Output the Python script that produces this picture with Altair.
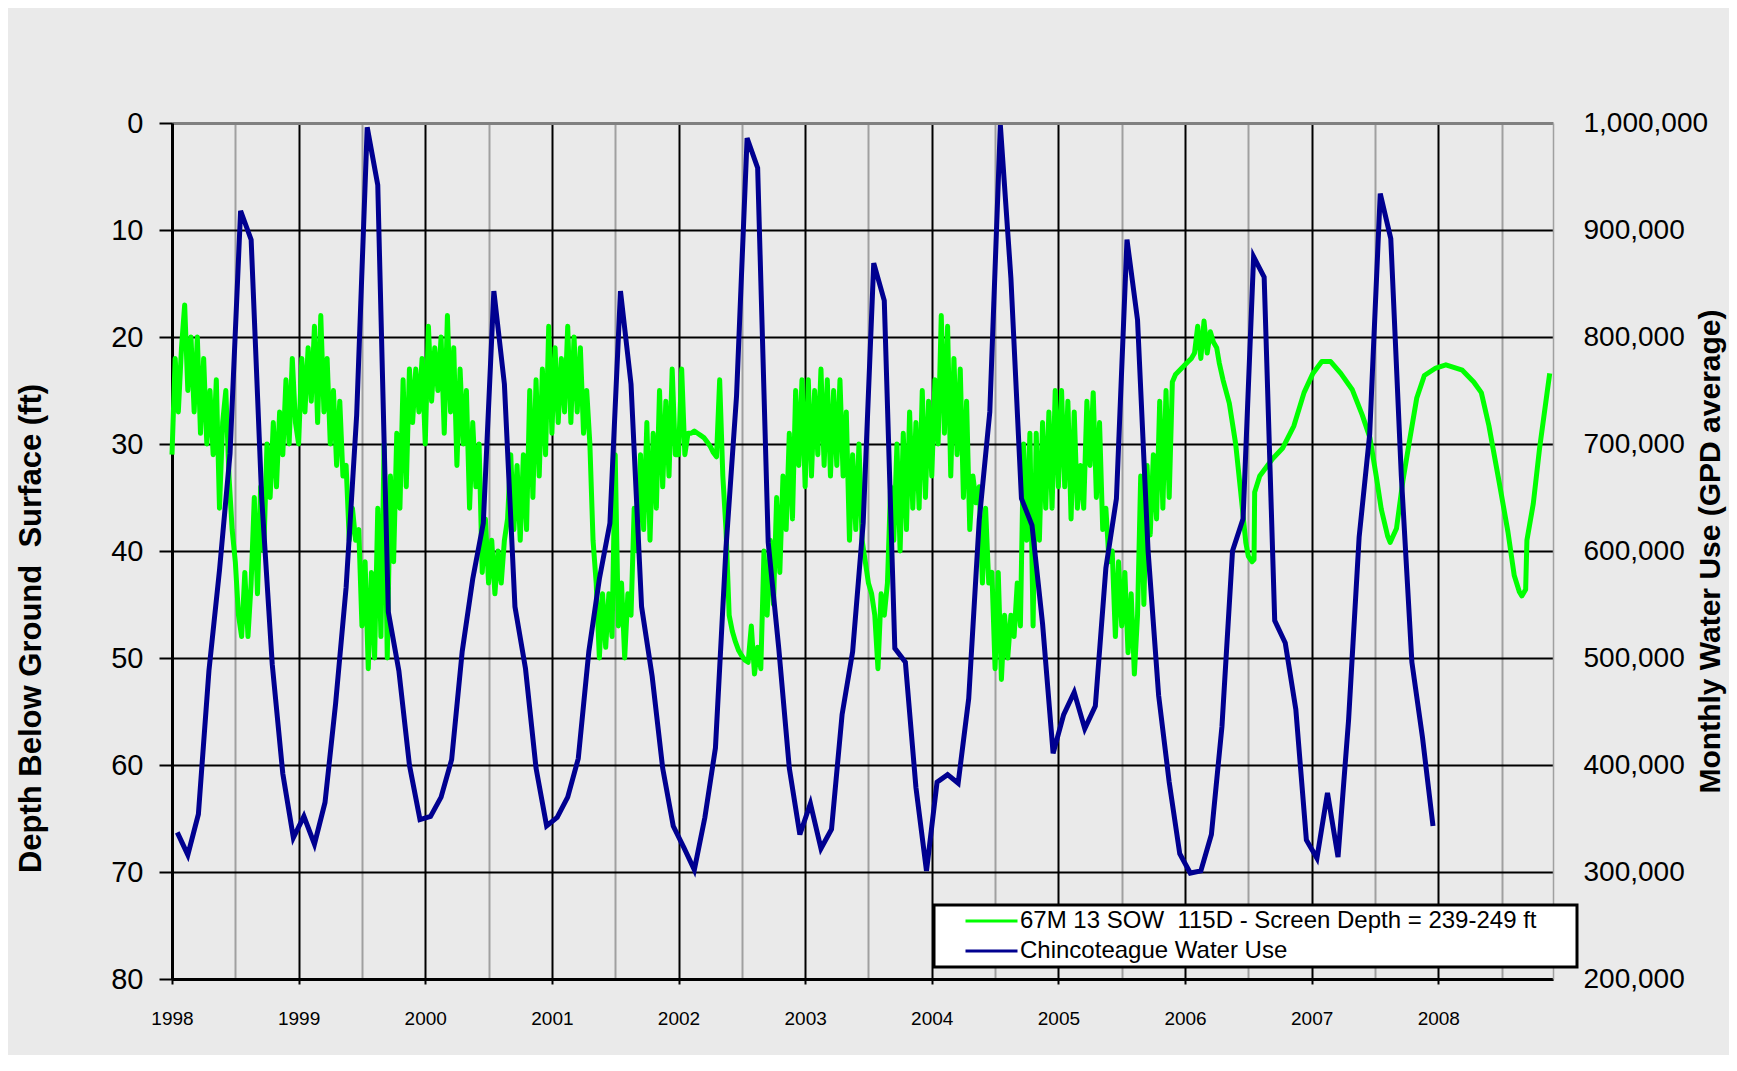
import altair as alt
import pandas as pd

FONT = "Liberation Sans, Arial, sans-serif"

# ---------------- data ----------------
series_green = "67M 13 SOW\u00a0 115D - Screen Depth = 239-249 ft"
series_blue = "Chincoteague Water Use"

# Chincoteague monthly water use (GPD average), Jan..Dec of each year
blue_1998 = [337000, 316000, 354000, 488000, 582000, 691000, 918000, 891000, 650000, 494000, 392000, 332000]
blue_1999 = [352000, 326000, 365000, 457000, 566000, 727000, 996000, 942000, 543000, 488000, 400000, 349000]
blue_2000 = [352000, 370000, 405000, 506000, 574000, 626000, 843000, 756000, 548000, 490000, 397000, 343000]
blue_2001 = [351000, 370000, 406000, 506000, 574000, 626000, 843000, 756000, 548000, 483000, 397000, 343000]
blue_2002 = [323000, 302000, 351000, 416000, 603000, 745000, 986000, 958000, 608000, 509000, 397000, 335000]
blue_2003 = [364000, 322000, 340000, 447000, 506000, 626000, 869000, 834000, 509000, 496000, 379000, 301000]
blue_2004 = [384000, 391000, 383000, 462000, 629000, 730000, 998000, 855000, 649000, 624000, 532000, 411000]
blue_2005 = [447000, 468000, 434000, 455000, 584000, 649000, 891000, 816000, 600000, 465000, 384000, 317000]
blue_2006 = [299000, 301000, 335000, 436000, 600000, 630000, 875000, 856000, 535000, 514000, 452000, 330000]
blue_2007 = [313000, 374000, 314000, 442000, 613000, 709000, 934000, 892000, 670000, 496000, 426000, 343000]
blue_years = {1998: blue_1998, 1999: blue_1999, 2000: blue_2000, 2001: blue_2001, 2002: blue_2002,
              2003: blue_2003, 2004: blue_2004, 2005: blue_2005, 2006: blue_2006, 2007: blue_2007}

# Well 67M 13 depth below ground surface (ft), readings every ~9 days (40 per year)
green_1998 = [31, 22, 27, 21, 17, 25, 20, 27, 20, 29, 22, 30, 25, 31, 24, 36, 28, 25, 33, 38,
              41, 46, 48, 42, 48, 43, 35, 44, 34, 40, 30, 35, 28, 34, 27, 31, 24, 30, 22, 28]
green_1999 = [30, 22, 27, 21, 26, 19, 28, 18, 27, 22, 30, 25, 32, 26, 33, 32, 39, 36, 39, 38,
              47, 41, 51, 42, 50, 36, 48, 30, 50, 33, 41, 29, 36, 24, 34, 23, 28, 23, 27, 22]
green_2000 = [30, 19, 26, 21, 25, 20, 29, 18, 27, 21, 32, 23, 30, 25, 36, 28, 34, 30, 42, 37,
              43, 39, 44, 40, 43, 39, 37, 31, 38, 32, 39, 31, 38, 25, 35, 24, 33, 23, 31, 19]
green_2001 = [29, 21, 28, 22, 27, 19, 28, 20, 27, 21, 29, 25, 30, 39, 43, 50, 44, 49, 44, 48,
              31, 47, 43, 50, 44, 46, 36, 40, 31, 38, 28, 39, 29, 36, 25, 34, 26, 33, 23, 31]
green_2002 = [31, 23, 31, 29, 29, 28.8, 29.0, 29.2, 29.4, 29.8, 30.2, 30.8, 31.2, 24, 33, 38, 46, 47.5, 48.5, 49.3,
              49.8, 50.2, 50.4, 47, 51.5, 49, 51, 40, 46, 39, 45, 35, 42, 33, 38, 29, 37, 25, 32, 24]
green_2003 = [34, 24, 33, 25, 31, 23, 32, 24, 33, 25, 32, 24, 33, 27, 39, 31, 38, 30, 39, 41,
              43, 44, 46, 51, 44, 46, 43, 34, 39, 30, 40, 29, 38, 27, 36, 28, 36, 25, 35, 26]
green_2004 = [33, 24, 30, 18, 29, 19, 33, 22, 31, 23, 35, 26, 38, 33, 35.5, 34, 43, 36, 43, 42,
              51, 42, 52, 46, 50, 46, 48, 43, 47, 30, 39, 29, 47, 29, 39, 28, 36, 27, 36, 25]
green_2005 = [34, 25, 34, 26, 37, 27, 36, 32, 36, 26, 32, 25.2, 35, 28, 38, 36, 41, 40, 48, 41,
              47, 42, 49.5, 44, 51.5, 46, 33, 45, 32, 38.5, 31, 37, 26, 36, 25, 35, 24.2, 23.5, 23.2, 22.9]
green_2006_early = [22.6, 22.3, 22.0, 21.5, 19, 22, 18.5, 21.5, 19.5, 20.5, 21.0]
green_years = {1998: green_1998, 1999: green_1999, 2000: green_2000, 2001: green_2001,
               2002: green_2002, 2003: green_2003, 2004: green_2004, 2005: green_2005,
               2006: green_2006_early}

# smoother record from mid-2006 on (decimal year, depth ft)
tail_t = [2006.27, 2006.30, 2006.35, 2006.40, 2006.44, 2006.48, 2006.50, 2006.53, 2006.545, 2006.55,
          2006.59, 2006.69, 2006.77, 2006.86, 2006.94, 2007.01, 2007.08, 2007.15, 2007.23, 2007.32,
          2007.40, 2007.46, 2007.51, 2007.55, 2007.60, 2007.62, 2007.67, 2007.72, 2007.77, 2007.83,
          2007.89, 2007.98, 2008.06, 2008.19, 2008.28, 2008.34, 2008.40, 2008.48, 2008.55, 2008.60,
          2008.64, 2008.66, 2008.69, 2008.70, 2008.75, 2008.80, 2008.88]
tail_d = [22.4, 24.0, 26.2, 30.0, 34.5, 39.2, 40.5, 41.0, 40.8, 34.5,
          33.0, 31.4, 30.4, 28.3, 25.2, 23.4, 22.3, 22.3, 23.4, 24.9,
          27.3, 29.4, 33.0, 36.1, 38.6, 39.2, 37.9, 33.5, 29.9, 25.7,
          23.6, 22.9, 22.6, 23.1, 24.2, 25.2, 28.3, 33.5, 38.2, 42.3,
          43.8, 44.2, 43.6, 39.0, 35.6, 30.4, 23.4]

x_ticks = [1998 + 0.5 * i for i in range(22)]
y_left_ticks = [0, 10, 20, 30, 40, 50, 60, 70, 80]
y_right_ticks = [200000, 300000, 400000, 500000, 600000, 700000, 800000, 900000, 1000000]

# ---------------- tables ----------------
blue_rows = []
for yr, vals in blue_years.items():
    for m, v in enumerate(vals):
        blue_rows.append({"t": yr + (m + 0.5) / 12.0, "v": v, "series": series_blue})
blue_df = pd.DataFrame(blue_rows)

green_rows = []
for yr, vals in green_years.items():
    for i, d in enumerate(vals):
        green_rows.append({"t": yr + i * 0.025, "d": d, "series": series_green})
for t, d in zip(tail_t, tail_d):
    green_rows.append({"t": t, "d": d, "series": series_green})
green_df = pd.DataFrame(green_rows).sort_values("t")

# ---------------- chart ----------------
x_enc = alt.X(
    "t:Q",
    scale=alt.Scale(domain=[1998, 2008.906], nice=False, zero=False),
    axis=alt.Axis(
        values=x_ticks,
        labelExpr="datum.value % 1 == 0 ? format(datum.value, 'd') : ''",
        title=None,
        grid=True,
        gridColor={"condition": {"test": "datum.value % 1 == 0", "value": "#000000"}, "value": "#a0a0a0"},
        gridWidth=2,
        tickColor={"condition": {"test": "datum.value % 1 == 0", "value": "#000000"}, "value": "transparent"},
        tickSize=5,
        tickWidth=2,
        domainColor="#000000",
        domainWidth=3,
        labelFont=FONT,
        labelFontSize=19,
        labelColor="#000000",
        labelPadding=25,
        labelFlush=False,
        labelOverlap=False,
    ),
)

color_enc = alt.Color(
    "series:N",
    scale=alt.Scale(domain=[series_green, series_blue], range=["#00ff00", "#000090"]),
    legend=alt.Legend(
        title=None,
        orient="none",
        legendX=762,
        legendY=782,
        direction="vertical",
        fillColor="#ffffff",
        strokeColor="#000000",
        padding=4,
        symbolType="stroke",
        symbolSize=2704,
        symbolStrokeWidth=3,
        symbolOffset=26,
        labelOffset=1,
        labelFont=FONT,
        labelFontSize=24,
        labelColor="#000000",
        labelLimit=2000,
        clipHeight=24,
        rowPadding=6,
        labelExpr="datum.label + '\u2800\u2800'",
    ),
)

green = alt.Chart(green_df).mark_line(strokeWidth=5, strokeJoin="round").encode(
    x=x_enc,
    y=alt.Y(
        "d:Q",
        scale=alt.Scale(domain=[0, 80], reverse=True, nice=False, zero=False),
        axis=alt.Axis(
            orient="left",
            values=y_left_ticks,
            title="Depth Below Ground\u00a0 Surface (ft)",
            grid=True,
            gridColor={"condition": {"test": "datum.value == 0", "value": "#808080"}, "value": "#000000"},
            gridWidth={"condition": {"test": "datum.value == 0", "value": 3}, "value": 2},
            tickColor="#000000",
            tickSize=13,
            tickWidth=2,
            domainColor="#000000",
            domainWidth=3,
            labelFont=FONT,
            labelFontSize=29,
            labelColor="#000000",
            labelPadding=16,
            labelFlush=False,
            titleFont=FONT,
            titleFontSize=31,
            titleFontWeight="bold",
            titleColor="#000000",
            titleAngle=270,
            titleX=-141,
            titleY=505,
            titleAlign="center",
            titleBaseline="middle",
        ),
    ),
    color=color_enc,
)

blue = alt.Chart(blue_df).mark_line(strokeWidth=5, strokeJoin="miter").encode(
    x=x_enc,
    y=alt.Y(
        "v:Q",
        scale=alt.Scale(domain=[200000, 1000000], nice=False, zero=False),
        axis=alt.Axis(
            orient="right",
            values=y_right_ticks,
            format=",d",
            title="Monthly Water Use (GPD average)",
            grid=False,
            ticks=False,
            domainColor="#a0a0a0",
            domainWidth=1.5,
            labelFont=FONT,
            labelFontSize=28,
            labelColor="#000000",
            labelPadding=30,
            labelFlush=False,
            titleFont=FONT,
            titleFontSize=30,
            titleFontWeight="bold",
            titleColor="#000000",
            titleAngle=270,
            titleX=157,
            titleY=428,
            titleAlign="center",
            titleBaseline="middle",
        ),
    ),
    color=color_enc,
)

chart = (
    alt.layer(green, blue)
    .resolve_scale(y="independent")
    .properties(
        width=1381,
        height=856,
        padding={"left": 164, "top": 115, "right": 176, "bottom": 76},
        autosize=alt.AutoSizeParams(type="none"),
    )
    .configure(background="#eaeaea")
    .configure_view(stroke=None)
    .configure_legend(strokeWidth=3)
)

chart.save("out.html", embed_options={"renderer": "svg", "actions": False})
